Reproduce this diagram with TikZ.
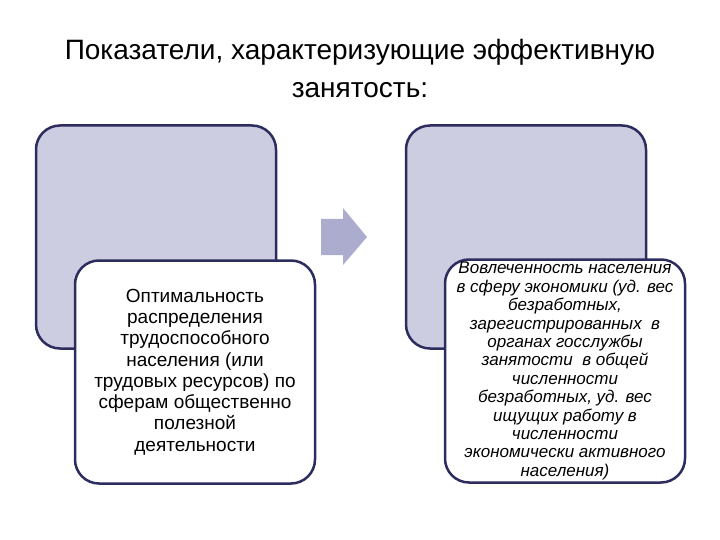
\documentclass[tikz,border=0pt]{standalone}
\usepackage{fontspec}
\setmainfont{Liberation Sans}
\usetikzlibrary{positioning}
\definecolor{boxline}{RGB}{44,44,94}
\definecolor{boxfill}{RGB}{205,205,225}
\definecolor{arrowfill}{RGB}{172,172,206}
\tikzset{
  backbox/.style={draw=boxline, fill=boxfill, line width=2.5pt, rounded corners=24pt,
    minimum width=240pt, minimum height=223pt},
  frontbox/.style={draw=boxline, fill=white, line width=2.5pt, rounded corners=24pt,
    minimum width=240pt, minimum height=223pt, align=center, inner sep=0pt}
}
\begin{document}
\begin{tikzpicture}[x=1pt,y=-1pt]
    \useasboundingbox (0,0) rectangle (720,540);
    % title
    \node[align=center, font=\fontsize{28}{38}\selectfont] (title) at (360,68)
      {Показатели, характеризующие эффективную\\занятость:};

    % left pair
    \node[backbox] (backL) at (156,237) {};
    \node[frontbox, font=\fontsize{19}{21.3}\selectfont] (frontL) at (195,372)
      {Оптимальность\\распределения\\трудоспособного\\населения (или\\трудовых ресурсов) по\\сферам общественно\\полезной\\деятельности};

    % right pair
    \node[backbox] (backR) at (526,237) {};
    \node[frontbox, font=\fontsize{17}{18.4}\selectfont\itshape] (frontR) at (565,371)
      {Вовлеченность населения\\в сферу экономики (уд. вес\\безработных,\\зарегистрированных\ \ в\\органах госслужбы\\занятости\ \ в общей\\численности\\безработных, уд. вес\\ищущих работу в\\численности\\экономически активного\\населения)};

    % arrow between
    \fill[arrowfill] (321,219) -- (343,219) -- (343,208) -- (367,237) -- (343,265)
      -- (343,255) -- (321,255) -- cycle;
\end{tikzpicture}
\end{document}
